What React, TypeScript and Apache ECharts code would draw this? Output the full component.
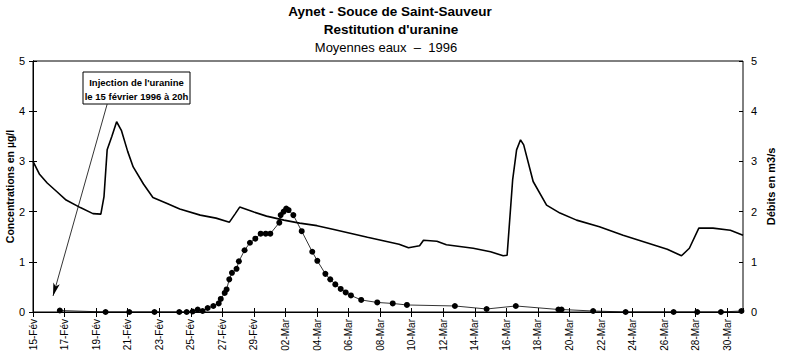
import React, { useEffect, useRef } from "react";
import * as echarts from "echarts";

// Day offsets counted from 15 February 1996 (0) to 31 March 1996 (45)
const xTickLabels = [
  "15-Fév", "17-Fév", "19-Fév", "21-Fév", "23-Fév", "25-Fév", "27-Fév", "29-Fév",
  "02-Mar", "04-Mar", "06-Mar", "08-Mar", "10-Mar", "12-Mar", "14-Mar", "16-Mar",
  "18-Mar", "20-Mar", "22-Mar", "24-Mar", "26-Mar", "28-Mar", "30-Mar",
];

// Discharge (Débits en m3/s)
const dischargeDays = [
  0, 0.4, 0.9, 1.5, 2.1, 3.0, 3.8, 4.3, 4.5, 4.7, 5.0, 5.3, 5.6, 6.0, 6.35, 7.0, 7.6,
  8.5, 9.3, 10.6, 11.6, 12.45, 12.8, 13.1, 14.0, 14.8, 15.9, 16.9, 18.0, 19.0, 20.1,
  21.2, 22.2, 23.2, 23.8, 24.5, 24.75, 25.6, 26.2, 27.9, 29.0, 29.8, 30.05, 30.4,
  30.65, 30.9, 31.1, 31.7, 32.55, 33.4, 34.45, 35.9, 37.4, 38.9, 40.2, 41.1, 41.6,
  42.2, 43.1, 44.2, 45,
];
const dischargeValues = [
  3.0, 2.75, 2.57, 2.4, 2.23, 2.08, 1.96, 1.95, 2.3, 3.23, 3.5, 3.79, 3.62, 3.2, 2.89,
  2.55, 2.28, 2.16, 2.05, 1.93, 1.87, 1.79, 1.95, 2.09, 1.99, 1.91, 1.83, 1.77, 1.72,
  1.65, 1.57, 1.49, 1.42, 1.35, 1.28, 1.32, 1.43, 1.41, 1.34, 1.27, 1.2, 1.12, 1.13,
  2.63, 3.23, 3.43, 3.33, 2.6, 2.13, 1.97, 1.83, 1.7, 1.53, 1.38, 1.25, 1.12, 1.27,
  1.67, 1.67, 1.63, 1.53,
];

// Uranine concentration (µg/l)
const concDays = [
  1.7, 4.6, 6.1, 7.7, 9.27, 9.74, 10.12, 10.44, 10.75, 11.07, 11.43, 11.77, 11.9,
  12.15, 12.27, 12.44, 12.61, 12.9, 13.05, 13.41, 13.75, 14.09, 14.43, 14.75, 15.04,
  15.61, 15.7, 15.89, 16.05, 16.2, 16.5, 17.03, 17.7, 18.02, 18.53, 18.84, 19.16,
  19.5, 19.82, 20.15, 20.8, 21.82, 22.8, 23.7, 26.74, 28.75, 30.6, 33.3, 33.5, 35.5,
  37.56, 40.6, 42.1, 43.6, 44.9,
];
const concValues = [
  0.03, 0.0, 0.0, 0.0, 0.0, 0.0, 0.01, 0.05, 0.02, 0.08, 0.12, 0.17, 0.26, 0.38, 0.45,
  0.65, 0.78, 0.86, 1.01, 1.23, 1.38, 1.46, 1.56, 1.56, 1.56, 1.78, 1.93, 2.0, 2.06,
  2.03, 1.93, 1.61, 1.2, 1.02, 0.76, 0.65, 0.55, 0.46, 0.39, 0.33, 0.24, 0.19, 0.17,
  0.14, 0.12, 0.06, 0.12, 0.05, 0.05, 0.02, 0.0, 0.0, 0.0, 0.0, 0.02,
];

// Injection arrow (from the note box to the injection time), in data coordinates
const arrowFrom = [4.7, 4.14];
const arrowTo = [1.27, 0.32];

const FONT = "Liberation Sans, Arial, sans-serif";

export default function App() {
  const ref = useRef<HTMLDivElement>(null);

  useEffect(() => {
    if (!ref.current) return;
    const chart = echarts.init(ref.current, undefined, { renderer: "svg" });

    const discharge = dischargeDays.map((d, i) => [d, dischargeValues[i]]);
    const conc = concDays.map((d, i) => [d, concValues[i]]);

    const xFormatter = (v: number) => {
      if (Math.abs(v / 2 - Math.round(v / 2)) > 1e-6) return "";
      return xTickLabels[Math.round(v / 2)] ?? "";
    };

    const baseX = {
      type: "value",
      min: 0,
      max: 45,
      interval: 2,
      splitLine: { show: false },
    };
    const baseY = {
      type: "value",
      min: 0,
      max: 5,
      interval: 1,
      splitLine: { show: false },
    };

    chart.setOption({
      animation: false,
      backgroundColor: "#ffffff",
      grid: {
        left: 33,
        right: 44,
        top: 61,
        bottom: 50,
        containLabel: false,
        outerBoundsMode: "none",
        show: true,
        borderColor: "#000",
        borderWidth: 1,
        backgroundColor: "transparent",
      },
      xAxis: [
        {
          ...baseX,
          position: "bottom",
          axisLine: { lineStyle: { color: "#000", width: 1.2 } },
          axisTick: { show: true, length: 5, lineStyle: { color: "#000" } },
          axisLabel: {
            rotate: 90,
            margin: 7,
            fontSize: 10,
            color: "#000",
            fontFamily: FONT,
            formatter: xFormatter,
            showMaxLabel: false,
          },
        },
        {
          ...baseX,
          position: "bottom",
          axisLine: { show: false },
          axisTick: { show: true, inside: true, length: 4, lineStyle: { color: "#000" } },
          axisLabel: { show: false },
        },
      ],
      yAxis: [
        {
          ...baseY,
          position: "left",
          name: "Concentrations en µg/l",
          nameLocation: "middle",
          nameRotate: 90,
          nameGap: 18,
          nameMoveOverlap: false,
          nameTextStyle: { fontSize: 10.5, fontWeight: "bold", color: "#000", fontFamily: FONT },
          axisLine: { show: true, lineStyle: { color: "#000" } },
          axisTick: { show: true, length: 4, lineStyle: { color: "#000" } },
          axisLabel: { margin: 8, fontSize: 11, color: "#000", fontFamily: FONT },
        },
        {
          ...baseY,
          position: "right",
          name: "Débits en m3/s",
          nameLocation: "middle",
          nameRotate: 90,
          nameGap: 22,
          nameMoveOverlap: false,
          nameTextStyle: {
            fontSize: 11,
            fontWeight: "bold",
            color: "#000",
            fontFamily: FONT,
          },
          axisLine: { show: true, lineStyle: { color: "#000" } },
          axisTick: { show: true, length: 4, lineStyle: { color: "#000" } },
          axisLabel: { margin: 8, fontSize: 11, color: "#000", fontFamily: FONT },
        },
        {
          ...baseY,
          position: "left",
          axisLine: { show: false },
          axisTick: { show: true, inside: true, length: 4, lineStyle: { color: "#000" } },
          axisLabel: { show: false },
        },
        {
          ...baseY,
          position: "right",
          axisLine: { show: false },
          axisTick: { show: true, inside: true, length: 4, lineStyle: { color: "#000" } },
          axisLabel: { show: false },
        },
      ],
      series: [
        {
          name: "Débits",
          type: "line",
          xAxisIndex: 0,
          yAxisIndex: 1,
          data: discharge,
          showSymbol: false,
          symbol: "none",
          lineStyle: { color: "#000", width: 1.6 },
          z: 3,
        },
        {
          name: "Concentrations",
          type: "line",
          xAxisIndex: 0,
          yAxisIndex: 0,
          data: conc,
          symbol: "circle",
          symbolSize: 6,
          itemStyle: { color: "#000" },
          lineStyle: { color: "#000", width: 0.8 },
          z: 4,
          markLine: {
            silent: true,
            symbol: ["none", "arrow"],
            symbolSize: [5, 13],
            label: { show: false },
            lineStyle: { color: "#000", width: 0.8, type: "solid" },
            data: [[{ coord: arrowFrom }, { coord: arrowTo }]],
          },
        },
      ],
      graphic: [
        {
          type: "text",
          x: 390,
          y: 4,
          style: {
            text: "Aynet - Souce de Saint-Sauveur",
            fontSize: 13.5,
            fontWeight: "bold",
            fontFamily: FONT,
            fill: "#000",
            textAlign: "center",
          },
        },
        {
          type: "text",
          x: 391,
          y: 22,
          style: {
            text: "Restitution d'uranine",
            fontSize: 13.5,
            fontWeight: "bold",
            fontFamily: FONT,
            fill: "#000",
            textAlign: "center",
          },
        },
        {
          type: "text",
          x: 386,
          y: 41,
          style: {
            text: "Moyennes eaux  –  1996",
            fontSize: 13,
            fontFamily: FONT,
            fill: "#000",
            textAlign: "center",
          },
        },
        {
          type: "rect",
          shape: { x: 83, y: 72, width: 107, height: 32 },
          style: { fill: "#fff", stroke: "#000", lineWidth: 1 },
          z: 10,
        },
        {
          type: "text",
          x: 136.5,
          y: 82,
          z: 11,
          style: {
            text: "Injection de l'uranine",
            fontSize: 9.5,
            fontWeight: "bold",
            fontFamily: FONT,
            fill: "#000",
            textAlign: "center",
            textVerticalAlign: "middle",
          },
        },
        {
          type: "text",
          x: 136.5,
          y: 96,
          z: 11,
          style: {
            text: "le 15 février 1996 à 20h",
            fontSize: 9.5,
            fontWeight: "bold",
            fontFamily: FONT,
            fill: "#000",
            textAlign: "center",
            textVerticalAlign: "middle",
          },
        },
      ],
    });

    return () => chart.dispose();
  }, []);

  return (
    <div
      ref={ref}
      style={{ position: "fixed", left: 0, top: 0, width: 787, height: 362, background: "#fff" }}
    />
  );
}
